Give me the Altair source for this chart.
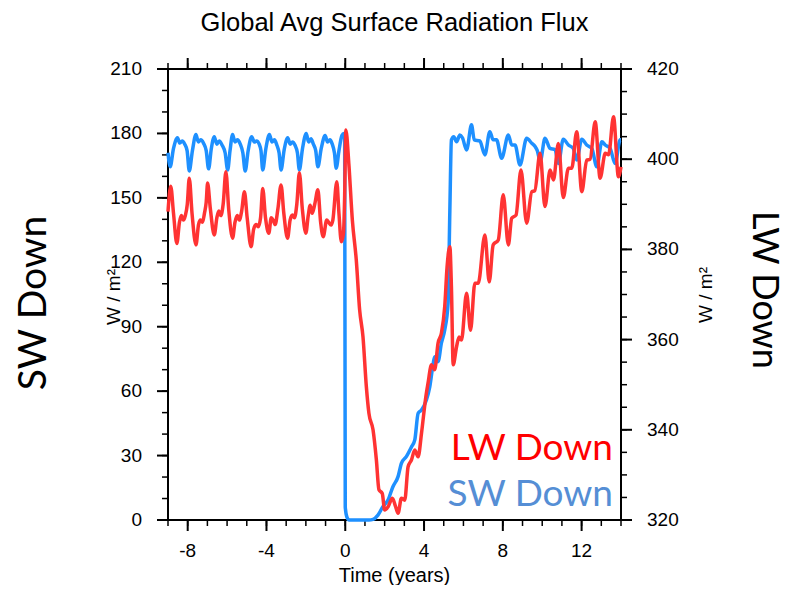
import altair as alt
import pandas as pd

# ---------------- data ----------------
sw_t = [-9.0, -8.89, -8.72, -8.52, -8.40, -8.28, -8.15, -8.03,
        -7.92, -7.76, -7.58, -7.46, -7.34, -7.20, -7.06,
        -6.94, -6.80, -6.65, -6.52, -6.40, -6.25, -6.10,
        -5.97, -5.85, -5.72, -5.60, -5.48, -5.33, -5.20,
        -5.08, -4.93, -4.75, -4.62, -4.50, -4.37, -4.28,
        -4.19, -4.03, -3.85, -3.72, -3.60, -3.47, -3.36,
        -3.26, -3.10, -2.92, -2.80, -2.68, -2.55, -2.43,
        -2.33, -2.17, -1.98, -1.86, -1.74, -1.62, -1.50,
        -1.39, -1.22, -1.02, -0.90, -0.78, -0.66, -0.55,
        -0.46, -0.32, -0.17, -0.07, -0.03, 0.0, 0.08, 0.2, 1.2,
        1.41, 1.66, 1.91, 2.17, 2.42, 2.68, 2.85, 3.1, 3.36, 3.53, 3.7, 3.87,
        4.12, 4.29, 4.45, 4.54, 4.71, 4.88, 5.05, 5.22, 5.31, 5.39, 5.51, 5.65,
        5.82, 5.95, 6.16, 6.41, 6.55, 6.83, 7.09, 7.34, 7.51, 7.68, 7.94, 8.28,
        8.45, 8.62, 8.87, 9.21, 9.47, 9.63, 9.75, 9.9, 10.14, 10.4, 10.65, 10.82,
        11.07, 11.33, 11.58, 11.75, 12.01, 12.26, 12.52, 12.77, 13.03, 13.2,
        13.45, 13.7, 13.96, 14.0]
sw_v = [171, 164.5, 173, 178, 175.5, 176.5, 175, 172,
        162.5, 172, 179.5, 176, 177, 175.5, 172,
        163.5, 173, 178.5, 175, 176.5, 174.5, 171,
        163, 172, 179.5, 176, 177, 175, 171,
        162.5, 172, 178.5, 176, 176.5, 175, 172,
        163, 173, 179.5, 176, 177, 174.5, 171,
        163, 172.5, 178, 175, 176, 174.5, 171,
        163, 173, 180, 176, 177.5, 175, 172,
        164.5, 173, 179, 176, 177, 175, 171,
        163.8, 172, 179, 180, 178, 6, 1.5, 0, 0,
        0.3, 2.3, 6.2, 9.3, 15.5, 20.2, 26.4, 29.5, 34, 37.3, 49.7, 51.2,
        55.9, 62, 72, 76, 73.7, 82.3, 88.5, 100.9, 144, 177, 178.5, 176.1,
        179.3, 178, 172.3, 184, 177, 176.5, 170, 180.8, 177, 177, 168.4, 179.3,
        174.6, 174.6, 165.3, 177.7, 175.4, 174, 172, 167, 177.7, 173, 172.5, 166,
        177.3, 174.6, 173, 167.6, 177.3, 174.6, 173, 164.5, 176.1, 174.6,
        173, 166, 177, 177]

lw_t = [-9.0, -8.86, -8.72, -8.55, -8.42, -8.32, -8.22, -8.12, -8.02,
        -7.92, -7.78, -7.58, -7.45, -7.35, -7.25, -7.15, -7.06,
        -6.99, -6.85, -6.65, -6.52, -6.42, -6.32, -6.20,
        -6.06, -5.92, -5.72, -5.60, -5.48, -5.38, -5.26,
        -5.12, -4.98, -4.78, -4.65, -4.52, -4.42, -4.30,
        -4.19, -4.05, -3.88, -3.76, -3.66, -3.56, -3.42,
        -3.26, -3.12, -2.93, -2.80, -2.68, -2.58, -2.46,
        -2.33, -2.18, -2.00, -1.88, -1.78, -1.68, -1.55,
        -1.39, -1.25, -1.12, -0.94, -0.84, -0.72, -0.63,
        -0.43, -0.32, -0.20, -0.09, -0.03, 0.03,
        0.18, 0.36, 0.56, 0.73, 0.9, 1.07, 1.2, 1.41, 1.58, 1.71, 1.88, 2.0,
        2.17, 2.39, 2.56, 2.68, 2.85, 3.02, 3.19, 3.36, 3.53, 3.7, 3.87, 4.09,
        4.2, 4.38, 4.54, 4.71, 4.88, 5.05, 5.17, 5.31, 5.39, 5.48, 5.65, 5.78,
        5.9, 6.16, 6.36, 6.58, 6.75, 7.09, 7.31, 7.51, 7.77, 8.02, 8.28, 8.45,
        8.67, 8.92, 9.21, 9.47, 9.62, 9.89, 10.14, 10.4, 10.57, 10.82, 11.07,
        11.33, 11.5, 11.75, 12.01, 12.26, 12.43, 12.69, 12.94, 13.2, 13.37,
        13.62, 13.87, 14.0]
lw_v = [388.4, 394, 388, 381.3, 386, 387.5, 386.5, 387.5, 390,
        395.8, 388, 381, 385.5, 386.5, 386, 388, 390.5,
        394.7, 389, 383.2, 387, 388.5, 387.5, 390,
        397.2, 389, 382.5, 386, 387.5, 386.5, 388.5,
        392.8, 387, 380.6, 384.5, 385.5, 385, 387,
        393.5, 387, 383.6, 387, 386.5, 385.5, 389,
        394.3, 388, 382.5, 386.5, 387.6, 387, 390,
        397, 389, 383.6, 387.5, 389.8, 388, 390,
        393.2, 386, 382.8, 386.5, 386, 385.4, 386.5,
        395, 388, 381.7, 383.6, 392, 406.5,
        399.1, 386.5, 377.6, 366.6, 360.6, 349.6, 343.7, 340, 333.3, 326.7, 325.9, 322.2,
        322.9, 324.8, 322.9, 321.5, 324.8, 324.4, 331.8, 333.3, 335.5, 334, 339.2, 347.3,
        350.3, 354.4, 353.3, 359.2, 361.4, 367.3, 376.2, 380.6, 371.7, 354.4, 358.4, 360.6,
        359.9, 370.3, 362.1, 372.5, 372.5, 383.2, 372.8, 381, 382.1, 392.1, 381, 386.9,
        387.6, 397.6, 385.8, 392.8, 393, 401.3, 389.5, 397.6, 395.4, 403.5, 391.5,
        398, 398, 406.1, 392.8, 399.8, 400, 408.3, 395.8, 401.3, 401,
        409.4, 396.1, 398.3]

x_major = [-8, -4, 0, 4, 8, 12]
x_minor = list(range(-9, 15))
sw_major = [0, 30, 60, 90, 120, 150, 180, 210]
sw_minor = list(range(0, 211, 10))
lw_major = [320, 340, 360, 380, 400, 420]
lw_minor = list(range(320, 421, 5))

# ---------------- chart ----------------
W, H = 453, 451
FONT = "Liberation Sans"
LABEL_FONT = "Lato"
TICK_FS = 19

sw_df = pd.DataFrame({"t": sw_t, "v": sw_v})
lw_df = pd.DataFrame({"t": lw_t, "v": lw_v})

xscale = alt.Scale(domain=[-9, 14], nice=False, zero=False)
sw_scale = alt.Scale(domain=[0, 210], nice=False, zero=False)
lw_scale = alt.Scale(domain=[320, 420], nice=False, zero=False)


def X(field="t"):
    return alt.X(f"{field}:Q", scale=xscale, axis=None)


def Ysw(field="v"):
    return alt.Y(f"{field}:Q", scale=sw_scale, axis=None)


def Ylw(field="v"):
    return alt.Y(f"{field}:Q", scale=lw_scale, axis=None)


def vals(values):
    return pd.DataFrame({"v": values, "lab": [str(v) for v in values]})


def xvals(values):
    return pd.DataFrame({"t": values, "lab": [str(v) for v in values]})


layers = []

# --- tick marks (outward, NCL style) ---
for df, w, a, b in [(vals(sw_major), 2, -11, 0), (vals(sw_minor), 1.5, -6, 0)]:
    layers.append(alt.Chart(df).mark_rule(color="black", strokeWidth=w).encode(
        y=Ysw(), x=alt.value(a), x2=alt.value(b)))
for df, w, a, b in [(vals(lw_major), 2, W, W + 11), (vals(lw_minor), 1.5, W, W + 6)]:
    layers.append(alt.Chart(df).mark_rule(color="black", strokeWidth=w).encode(
        y=Ylw(), x=alt.value(a), x2=alt.value(b)))
for df, w, a, b in [(xvals(x_major), 2, H, H + 11), (xvals(x_minor), 1.5, H, H + 6),
                    (xvals(x_major), 2, -11, 0), (xvals(x_minor), 1.5, -6, 0)]:
    layers.append(alt.Chart(df).mark_rule(color="black", strokeWidth=w).encode(
        x=X(), y=alt.value(a), y2=alt.value(b)))

# --- tick labels ---
layers.append(alt.Chart(vals(sw_major)).mark_text(
    font=FONT, fontSize=TICK_FS, color="black", align="right", baseline="middle").encode(
    y=Ysw(), x=alt.value(-26), text="lab:N"))
layers.append(alt.Chart(vals(lw_major)).mark_text(
    font=FONT, fontSize=TICK_FS, color="black", align="left", baseline="middle").encode(
    y=Ylw(), x=alt.value(W + 26), text="lab:N"))
layers.append(alt.Chart(xvals(x_major)).mark_text(
    font=FONT, fontSize=TICK_FS, color="black", align="center", baseline="alphabetic").encode(
    x=X(), y=alt.value(H + 37), text="lab:N"))

# --- data lines ---
blue = alt.Chart(sw_df).mark_line(color="#1E90FF", strokeWidth=3.5,
                                  interpolate="monotone", strokeJoin="round").encode(
    x=X(), y=Ysw())
red = alt.Chart(lw_df).mark_line(color="#FF3333", strokeWidth=3.5,
                                 interpolate="monotone", strokeJoin="round").encode(
    x=X(), y=Ylw())
layers += [blue, red]

one = pd.DataFrame({"a": [0]})


def label(text, x, y, size, font=FONT, color="black", angle=0, align="center",
          baseline="middle"):
    return alt.Chart(one).mark_text(text=text, font=font, fontSize=size, color=color,
                                    angle=angle, align=align, baseline=baseline).encode(
        x=alt.value(x), y=alt.value(y))


layers += [
    label("Global Avg Surface Radiation Flux", W / 2, -38, 25.5, baseline="alphabetic"),
    label("Time (years)", W / 2, 513, 20, baseline="alphabetic"),
    label("W / m²", -54, 228, 19, angle=270),
    label("W / m²", 538, 226, 19, angle=270),
    label("SW Down", -134, 234, 39, font=LABEL_FONT, angle=270),
    label("LW Down", 596, 221, 36, font=LABEL_FONT, angle=90),
    label("LW Down", 445, 391, 37, font=LABEL_FONT, color="#FF0000", align="right",
          baseline="alphabetic"),
    label("SW Down", 445, 437, 37, font=LABEL_FONT, color="#558ED5", align="right",
          baseline="alphabetic"),
]

chart = alt.layer(*layers).resolve_scale(y="independent").properties(
    width=W, height=H,
    autosize=alt.AutoSizeParams(type="none"),
    padding={"left": 160, "top": 61, "right": 169, "bottom": 65},
).configure_view(stroke="black", strokeWidth=2)

chart.save("out.html", embed_options={"renderer": "svg", "actions": False})
